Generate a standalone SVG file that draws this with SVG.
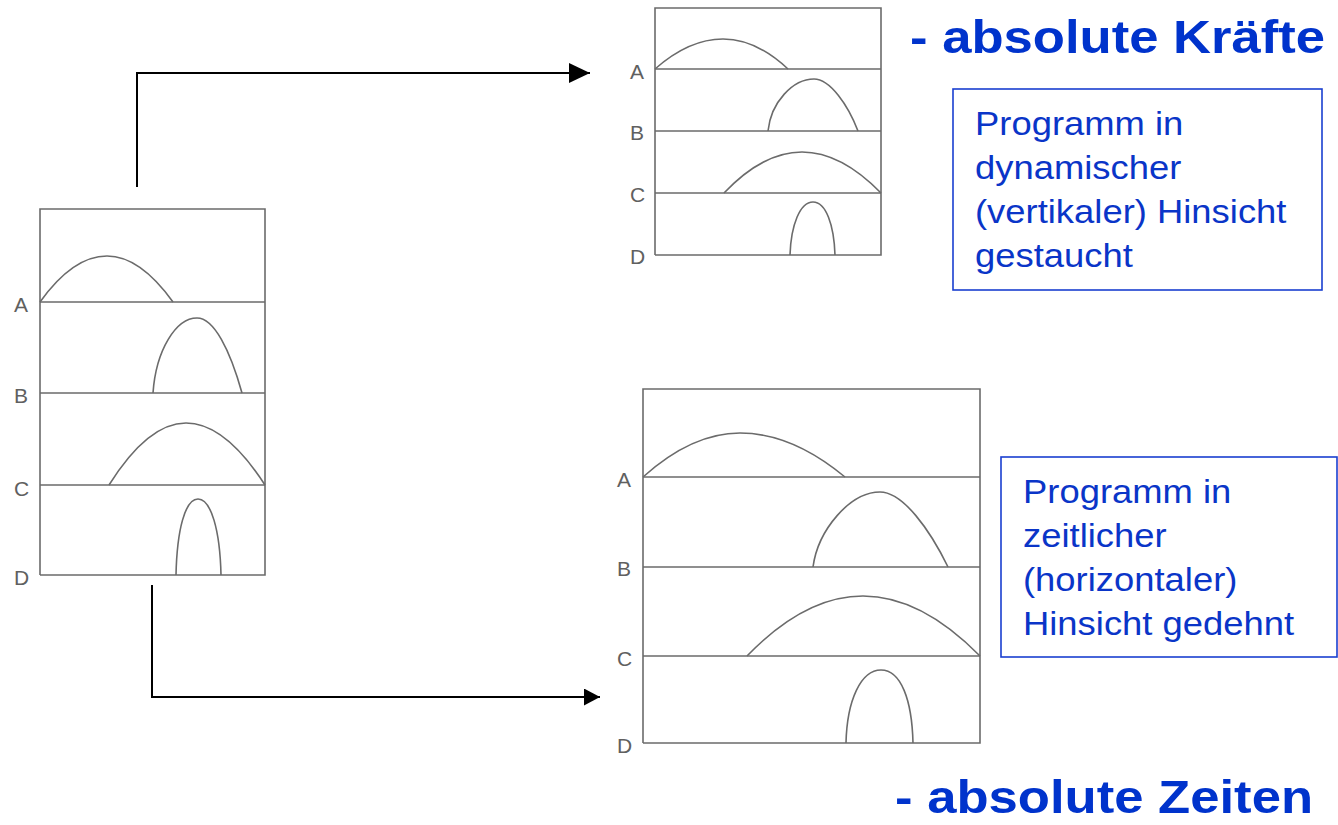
<svg xmlns="http://www.w3.org/2000/svg" width="1338" height="825" viewBox="0 0 1338 825">
  <style>
    .frame { fill: none; stroke: #6b6b6b; stroke-width: 1.6; }
    .curve { fill: none; stroke: #6b6b6b; stroke-width: 1.6; }
    .lbl { font-family: "Liberation Sans", Arial, sans-serif; font-size: 21px; fill: #606060; }
    .conn { fill: none; stroke: #000; stroke-width: 2; }
    .note { fill: #fff; stroke: #1a3fd0; stroke-width: 1.6; }
    .ntxt { font-family: "Liberation Sans", Arial, sans-serif; font-size: 32.5px; fill: #0a35c8; }
    .title { font-family: "Liberation Sans", Arial, sans-serif; font-size: 47px; font-weight: bold; fill: #0033cc; }
  </style>
  <defs>
    <marker id="head" viewBox="0 0 10 10" refX="10" refY="5" markerWidth="21" markerHeight="20" markerUnits="userSpaceOnUse" orient="auto" preserveAspectRatio="none">
      <path d="M0 0 L10 5 L0 10 Z" fill="#000"/>
    </marker>
    <marker id="head2" viewBox="0 0 10 10" refX="10" refY="5" markerWidth="16" markerHeight="17" markerUnits="userSpaceOnUse" orient="auto" preserveAspectRatio="none">
      <path d="M0 0 L10 5 L0 10 Z" fill="#000"/>
    </marker>
  </defs>
  <rect width="1338" height="825" fill="#fff"/>

  <!-- original motor program -->
  <g id="program-original">
    <path class="frame" d="M40 575 V209 H265 V575 H40 M40 302 H265 M40 393 H265 M40 485 H265"/>
    <path class="curve" d="M40 302 Q73 256 107 256 Q140 256 173 302"/>
    <path class="curve" d="M153 393 C156 350 176 318 197 318 C214 318 230 350 242 393"/>
    <path class="curve" d="M109 485 Q148 423 186 423 Q225 423 265 485"/>
    <path class="curve" d="M176 575 C177 530 185 499 198 499 C211 499 220 530 221 575"/>
    <text class="lbl" x="14" y="312">A</text>
    <text class="lbl" x="14" y="403">B</text>
    <text class="lbl" x="14" y="496">C</text>
    <text class="lbl" x="14" y="585">D</text>
  </g>

  <!-- program compressed in force -->
  <g id="program-forces">
    <path class="frame" d="M655 255 V8 H881 V255 H655 M655 69 H881 M655 131 H881 M655 193 H881"/>
    <path class="curve" d="M655 69 Q689 39 723 39 Q756 39 788 69"/>
    <path class="curve" d="M768 131 C771 102 793 79 814 79 C830 79 848 105 858 131"/>
    <path class="curve" d="M724 193 Q763 152 802 152 Q841 152 881 193"/>
    <path class="curve" d="M790 255 C791 225 800 202 813 202 C826 202 834 225 835 255"/>
    <text class="lbl" x="630" y="79">A</text>
    <text class="lbl" x="630" y="140">B</text>
    <text class="lbl" x="630" y="202">C</text>
    <text class="lbl" x="630" y="264">D</text>
  </g>

  <!-- program stretched in time -->
  <g id="program-times">
    <path class="frame" d="M643 743 V389 H980 V743 H643 M643 477 H980 M643 567 H980 M643 656 H980"/>
    <path class="curve" d="M643 477 Q692 433 740 433 Q792 433 845 477"/>
    <path class="curve" d="M813 567 C818 530 850 492 880 492 C903 492 930 530 948 567"/>
    <path class="curve" d="M747 656 Q805 596 863 596 Q921 596 980 656"/>
    <path class="curve" d="M846 743 C847 700 861 670 881 670 C901 670 912 700 913 743"/>
    <text class="lbl" x="617" y="487">A</text>
    <text class="lbl" x="617" y="576">B</text>
    <text class="lbl" x="617" y="666">C</text>
    <text class="lbl" x="617" y="753">D</text>
  </g>

  <!-- connectors -->
  <g id="connectors">
    <path class="conn" d="M137 187 V73 H590" marker-end="url(#head)"/>
    <path class="conn" d="M152 585 V697 H600" marker-end="url(#head2)"/>
  </g>

  <!-- note on force scaling -->
  <g id="note-forces">
    <rect class="note" x="953" y="89" width="369" height="201"/>
    <g transform="translate(975 0) scale(1.12 1)">
      <text class="ntxt" x="0" y="135">Programm in</text>
      <text class="ntxt" x="0" y="179">dynamischer</text>
      <text class="ntxt" x="0" y="223">(vertikaler) Hinsicht</text>
      <text class="ntxt" x="0" y="267">gestaucht</text>
    </g>
  </g>

  <!-- note on time scaling -->
  <g id="note-times">
    <rect class="note" x="1001" y="457" width="336" height="200"/>
    <g transform="translate(1023 0) scale(1.12 1)">
      <text class="ntxt" x="0" y="503">Programm in</text>
      <text class="ntxt" x="0" y="547">zeitlicher</text>
      <text class="ntxt" x="0" y="591">(horizontaler)</text>
      <text class="ntxt" x="0" y="635">Hinsicht gedehnt</text>
    </g>
  </g>

  <!-- headings -->
  <g id="title-forces" transform="translate(910 0) scale(1.12 1)">
    <text class="title" x="0" y="53">- absolute Kräfte</text>
  </g>
  <g id="title-times" transform="translate(895 0) scale(1.12 1)">
    <text class="title" x="0" y="813">- absolute Zeiten</text>
  </g>
</svg>
